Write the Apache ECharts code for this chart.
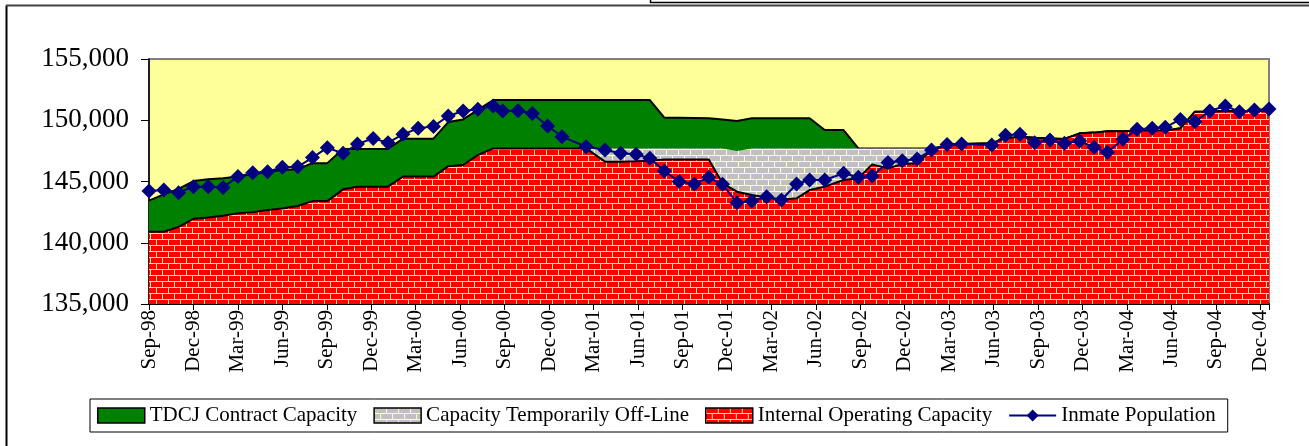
<!DOCTYPE html>
<html>
<head>
<meta charset="utf-8">
<title>TDCJ capacity vs inmate population</title>
<script src="https://cdn.jsdelivr.net/npm/echarts@6/dist/echarts.min.js"></script>
<style>
  html, body { margin: 0; padding: 0; background: #fff; }
  #chart { width: 1309px; height: 446px; }
</style>
</head>
<body>
<div id="chart"></div>
<script>
// reporting dates (x positions come from these)
const dates = [
  '1998-09-01', '1998-10-01', '1998-11-01', '1998-12-01', '1999-01-01', '1999-02-01',
  '1999-03-01', '1999-04-01', '1999-05-01', '1999-06-01', '1999-07-02', '1999-08-02',
  '1999-09-02', '1999-10-04', '1999-11-03', '1999-12-05', '2000-01-05', '2000-02-05',
  '2000-03-06', '2000-04-07', '2000-05-07', '2000-06-07', '2000-07-07', '2000-08-08',
  '2000-08-28', '2000-09-28', '2000-10-28', '2000-11-28', '2000-12-28', '2001-02-15',
  '2001-03-25', '2001-04-26', '2001-05-28', '2001-06-25', '2001-07-25', '2001-08-25',
  '2001-09-25', '2001-10-25', '2001-11-22', '2001-12-22', '2002-01-22', '2002-02-20',
  '2002-03-22', '2002-04-22', '2002-05-19', '2002-06-19', '2002-07-28', '2002-08-28',
  '2002-09-25', '2002-10-28', '2002-11-26', '2002-12-27', '2003-01-26', '2003-02-25',
  '2003-03-27', '2003-05-28', '2003-06-25', '2003-07-25', '2003-08-25', '2003-09-25',
  '2003-10-25', '2003-11-25', '2003-12-25', '2004-01-22', '2004-02-22', '2004-03-22',
  '2004-04-22', '2004-05-19', '2004-06-19', '2004-07-19', '2004-08-19', '2004-09-20',
  '2004-10-19', '2004-11-19', '2004-12-19'
];

const internalCapacity = [
  140900, 140900, 141300, 141950, 142070, 142200, 142400, 142500, 142670, 142800,
  143000, 143400, 143400, 144360, 144580, 144580, 144580, 145400, 145400, 145400,
  146250, 146350, 147160, 147700, 147700, 147700, 147700, 147700, 147700, 147700,
  146620, 146620, 146650, 146700, 146800, 146800, 146800, 146800, 144850, 144170,
  143900, 143700, 143540, 143630, 144300, 144580, 145120, 145260, 146400, 146070,
  146430, 146480, 147570, 147950, 148060, 148120, 148520, 148660, 148580, 148520,
  148470, 148930, 148990, 149100, 149100, 149150, 149150, 149150, 149340, 150700,
  150700, 150760, 150760, 150760, 150760
];

const offLineCapacity = [
  0, 0, 0, 0, 0, 0, 0, 0, 0, 0,
  0, 0, 0, 0, 0, 0, 0, 0, 0, 0,
  0, 0, 0, 0, 0, 0, 0, 0, 0, 0,
  1080, 1080, 1050, 1000, 900, 900, 900, 900, 2850, 3320,
  3800, 4000, 4160, 4070, 3400, 3120, 2580, 2440, 1300, 1630,
  1270, 1220, 130, 0, 0, 0, 0, 0, 0, 0,
  0, 0, 0, 0, 0, 0, 0, 0, 0, 0,
  0, 0, 0, 0, 0
];

const contractCapacity = [
  2540, 3050, 3100, 3090, 3110, 3060, 3000, 3100, 3130, 3140,
  3000, 3100, 3100, 3290, 3070, 3070, 3070, 3100, 3100, 3100,
  3600, 3720, 3680, 3950, 3950, 3950, 3950, 3950, 3950, 3950,
  3950, 3950, 3950, 3950, 2510, 2500, 2480, 2460, 2370, 2450,
  2460, 2460, 2460, 2460, 2460, 1500, 1500, 0, 0, 0,
  0, 0, 0, 0, 0, 0, 0, 0, 0, 0,
  0, 0, 0, 0, 0, 0, 0, 0, 0, 0,
  0, 0, 0, 0, 0
];

const inmatePopulation = [
  144220, 144300, 144090, 144580, 144580, 144520, 145400, 145720, 145800, 146160,
  146200, 146950, 147760, 147300, 148060, 148520, 148170, 148850, 149340, 149500,
  150350, 150760, 150890, 151160, 150760, 150780, 150560, 149530, 148660, 147840,
  147570, 147300, 147220, 146900, 145860, 144990, 144800, 145340, 144770, 143270,
  143410, 143760, 143490, 144800, 145120, 145120, 145670, 145340, 145450, 146560,
  146700, 146840, 147570, 148030, 148060, 147980, 148770, 148850, 148170, 148390,
  148120, 148310, 147790, 147380, 148440, 149260, 149340, 149420, 150070, 149880,
  150760, 151160, 150700, 150840, 150920
];

const monthNames = ['Jan', 'Feb', 'Mar', 'Apr', 'May', 'Jun', 'Jul', 'Aug', 'Sep', 'Oct', 'Nov', 'Dec'];
const serif = 'Liberation Serif';

// months since Sep 1998, with the day as a fraction
function monthPos(s) {
  const p = s.split('-').map(Number);
  const days = new Date(p[0], p[1], 0).getDate();
  return (p[0] - 1998) * 12 + (p[1] - 9) + (p[2] - 1) / days;
}

function monthLabel(v) {
  const r = Math.round(v);
  if (Math.abs(v - r) > 1e-6 || r % 3 !== 0) return '';
  const m = (8 + r) % 12;
  const y = (1998 + Math.floor((8 + r) / 12)) % 100;
  return monthNames[m] + '-' + (y < 10 ? '0' + y : y);
}

// brick fill like the old spreadsheet pattern
function brick(fill, mortar) {
  const c = document.createElement('canvas');
  c.width = 12; c.height = 12;
  const g = c.getContext('2d');
  g.fillStyle = mortar;
  g.fillRect(0, 0, 12, 12);
  g.fillStyle = fill;
  g.fillRect(1, 0, 11, 5);
  g.fillRect(0, 6, 6, 5);
  g.fillRect(7, 6, 5, 5);
  return { image: c, repeat: 'repeat' };
}

const xs = dates.map(monthPos);
const redBrick = brick('#FF0000', '#FFE08A');
const greyBrick = brick('#C0C0C0', '#FFFFCC');

// tops of the three bands (areas are overlaid, top band drawn first)
const redTop = internalCapacity.map((v, i) => [xs[i], v]);
const greyTop = internalCapacity.map((v, i) => [xs[i], v + offLineCapacity[i]]);
const greenTop = internalCapacity.map((v, i) => [xs[i], v + offLineCapacity[i] + contractCapacity[i]]);
const popData = inmatePopulation.map((v, i) => [xs[i], v]);

const myChart = echarts.init(document.getElementById('chart'));

const option = {
  animation: false,
  grid: {
    left: 149, right: 40, top: 59, bottom: 142,
    show: true,
    backgroundColor: '#FFFF99',
    borderColor: '#808080',
    borderWidth: 2
  },
  xAxis: {
    type: 'value',
    min: 0,
    max: xs[xs.length - 1],
    interval: 3,
    splitLine: { show: false },
    axisLine: { show: true, onZero: false, lineStyle: { color: '#000', width: 2 } },
    axisTick: { show: true, length: 6, lineStyle: { color: '#000', width: 1 } },
    axisLabel: {
      rotate: 90,
      margin: 6,
      color: '#000',
      fontFamily: serif,
      fontSize: 21,
      formatter: monthLabel
    }
  },
  yAxis: {
    type: 'value',
    min: 135000,
    max: 155000,
    interval: 5000,
    splitLine: { show: false },
    axisLine: { show: true, lineStyle: { color: '#000', width: 1.5 } },
    axisTick: { show: true, length: 8, lineStyle: { color: '#000', width: 1 } },
    axisLabel: {
      margin: 20,
      color: '#000',
      fontFamily: serif,
      fontSize: 27,
      formatter: function (v) { return v.toLocaleString('en-US'); }
    }
  },
  legend: {
    left: 90,
    top: 399,
    padding: [6, 12, 6, 7],
    itemWidth: 47,
    itemHeight: 15,
    itemGap: 16,
    backgroundColor: '#fff',
    borderColor: '#000',
    borderWidth: 1,
    borderRadius: 0,
    textStyle: { color: '#000', fontFamily: serif, fontSize: 21 },
    data: [
      { name: 'TDCJ Contract Capacity', icon: 'rect',
        itemStyle: { color: '#008000', borderColor: '#000', borderWidth: 1.5 } },
      { name: 'Capacity Temporarily Off-Line', icon: 'rect',
        itemStyle: { color: greyBrick, borderColor: '#000', borderWidth: 1.5 } },
      { name: 'Internal Operating Capacity', icon: 'rect',
        itemStyle: { color: redBrick, borderColor: '#000', borderWidth: 1.5 } },
      { name: 'Inmate Population' }
    ]
  },
  series: [
    {
      name: 'TDCJ Contract Capacity',
      type: 'line',
      data: greenTop,
      symbol: 'none',
      z: 2,
      itemStyle: { color: '#008000' },
      lineStyle: { color: '#000', width: 2 },
      areaStyle: { color: '#008000', opacity: 1, origin: 'start' }
    },
    {
      name: 'Capacity Temporarily Off-Line',
      type: 'line',
      data: greyTop,
      symbol: 'none',
      z: 3,
      itemStyle: { color: '#C0C0C0' },
      lineStyle: { width: 0, opacity: 0 },
      areaStyle: { color: greyBrick, opacity: 1, origin: 'start' }
    },
    {
      name: 'Internal Operating Capacity',
      type: 'line',
      data: redTop,
      symbol: 'none',
      z: 4,
      itemStyle: { color: '#FF0000' },
      lineStyle: { color: '#000', width: 2 },
      areaStyle: { color: redBrick, opacity: 1, origin: 'start' }
    },
    {
      name: 'Inmate Population',
      type: 'line',
      data: popData,
      symbol: 'diamond',
      symbolSize: 15,
      z: 5,
      itemStyle: { color: '#000080' },
      lineStyle: { color: '#000080', width: 2 }
    }
  ],
  // outer frame of the original sheet
  graphic: [
    { type: 'line', silent: true, shape: { x1: 6.5, y1: 5.5, x2: 6.5, y2: 446 },
      style: { stroke: '#000', lineWidth: 2 } },
    { type: 'line', silent: true, shape: { x1: 6, y1: 5.5, x2: 1309, y2: 5.5 },
      style: { stroke: '#404040', lineWidth: 2 } },
    { type: 'rect', silent: true, shape: { x: 650.5, y: -10, width: 700, height: 12.5 },
      style: { fill: null, stroke: '#000', lineWidth: 1.5 } }
  ]
};

myChart.setOption(option);
</script>
</body>
</html>
